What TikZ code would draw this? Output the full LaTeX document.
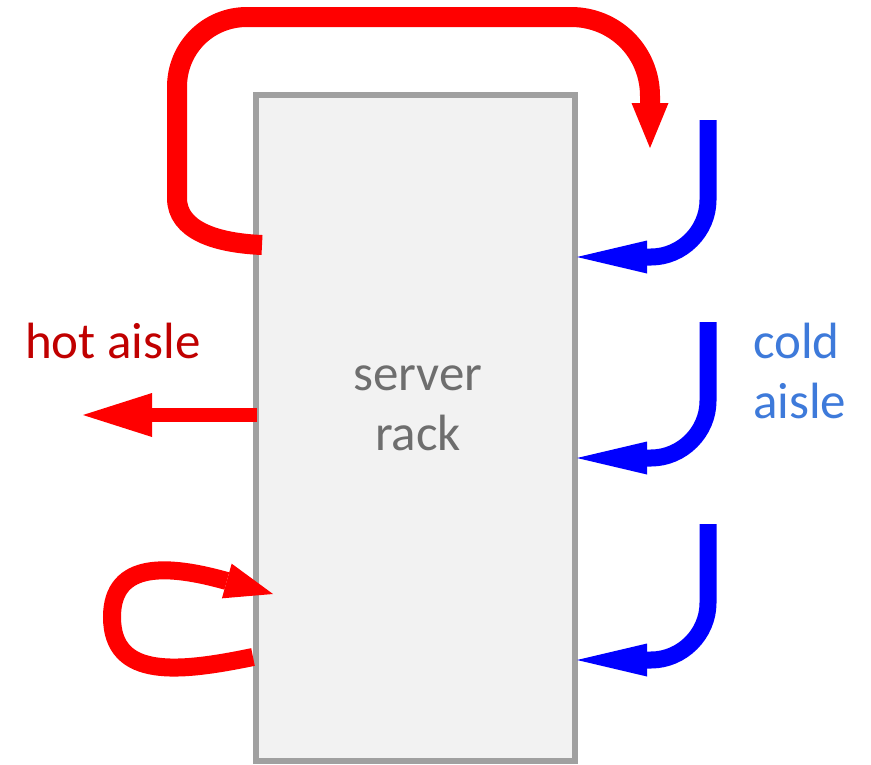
\documentclass[tikz,border=0pt]{standalone}
\usepackage{fontspec}
\setmainfont{Carlito}
\usetikzlibrary{arrows.meta}
\definecolor{rackgray}{RGB}{160,160,160}
\definecolor{rackfill}{RGB}{242,242,242}
\definecolor{racktext}{RGB}{110,110,110}
\definecolor{hotred}{RGB}{255,0,0}
\definecolor{hottext}{RGB}{192,0,0}
\definecolor{coldblue}{RGB}{0,0,255}
\definecolor{coldtext}{RGB}{62,122,218}
\tikzset{
  rackbox/.style={
    draw=rackgray,
    line width=6pt,
    fill=rackfill,
    minimum width=319pt,
    minimum height=666pt,
    inner sep=0pt
  },
  aislelabel/.style={
    inner sep=0pt,
    align=left,
    font=\fontsize{51}{60}\selectfont
  },
  hotflow/.style={
    draw=hotred,
    line width=#1
  },
  coldflow/.style={
    draw=coldblue,
    line width=17pt,
    -{Triangle[length=70pt,width=33pt,line width=0pt]}
  }
}
\begin{document}
\begin{tikzpicture}[x=1pt, y=-1pt]
  \useasboundingbox (0,0) rectangle (871,764);
  \node[rackbox] (rack) at (415.5,428) {};
  \node[aislelabel, align=center, text=racktext, anchor=base] (rackname) at (418,450) {server\\rack};
  \node[aislelabel, text=hottext, anchor=base west] (hotname) at (25,358) {hot aisle};
  \node[aislelabel, text=coldtext, anchor=base west] (coldname) at (753,418) {cold\\aisle};

  % return flow over the top
  \coordinate (topout) at (262,245);
  \coordinate (topin) at (650,148);
  \draw[hotflow=20pt, -{Triangle[length=45pt,width=37pt,line width=0pt]}]
    (topout) .. controls (215,243) and (177,230) .. (177,198) -- (177,87)
    .. controls (177,48) and (208,17) .. (247,17) -- (571,17)
    .. controls (615,17) and (650,52) .. (650,96) -- (topin);

  % exhaust
  \coordinate (hotout) at (257,415);
  \coordinate (hotend) at (83,415);
  \draw[hotflow=14pt, -{Triangle[length=69pt,width=44pt,line width=0pt]}] (hotout) -- (hotend);

  % recirculation at the bottom
  \coordinate (loopout) at (253,657);
  \coordinate (loopin) at (273,594);
  \draw[hotflow=18pt, -{Triangle[length=48pt,width=36pt,line width=0pt]}]
    (loopout) .. controls (180,672) and (112,680) .. (112,617)
    .. controls (112,560) and (170,565) .. (loopin);

  % cold supply
  \foreach \top/\lvl [count=\i] in {120/257, 322/458, 524/660} {
    \coordinate (cold\i) at (708,\top);
    \coordinate (intake\i) at (577,\lvl);
    \draw[coldflow] (cold\i) -- (708,\lvl-57)
      .. controls (708,\lvl-26) and (682,\lvl) .. (651,\lvl) -- (intake\i);
  }
\end{tikzpicture}
\end{document}
